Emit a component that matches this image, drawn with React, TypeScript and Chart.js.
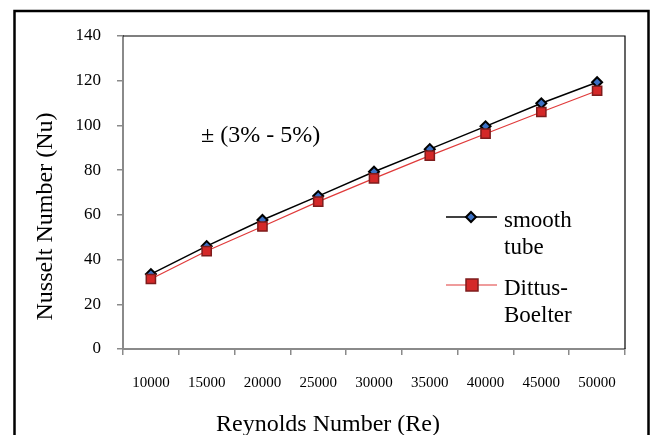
import React, { useEffect, useRef } from 'react';
import { Chart, registerables } from 'chart.js';

Chart.register(...registerables);

// ---- data ----
const reynoldsLabels = ['10000', '15000', '20000', '25000', '30000', '35000', '40000', '45000', '50000'];
const smoothTube = [33.5, 46, 57.7, 68.4, 79.3, 89.4, 99.6, 109.9, 119.3];
const dittusBoelter = [31.3, 43.8, 54.8, 65.9, 76.3, 86.5, 96.3, 106, 115.5];
const yMin = 0;
const yMax = 140;
const yStep = 20;
const xTitle = 'Reynolds Number (Re)';
const yTitle = 'Nusselt Number (Nu)';
const noteText = '± (3% - 5%)';
const smoothLegend = ['smooth', 'tube'];
const dittusLegend = ['Dittus-', 'Boelter'];

const FONT = '"Liberation Serif", "Times New Roman", serif';
const AXIS_GRAY = '#8a8a8a';
const BLACK_LINE = '#000000';
const DIAMOND_FILL = '#3b6fc2';
const RED_LINE = '#e03a3a';
const RED_FILL = '#d42828';
const RED_BORDER = '#7e1c1c';

function drawDiamond(ctx: CanvasRenderingContext2D, x: number, y: number, r: number) {
  ctx.save();
  ctx.beginPath();
  ctx.moveTo(x, y - r);
  ctx.lineTo(x + r, y);
  ctx.lineTo(x, y + r);
  ctx.lineTo(x - r, y);
  ctx.closePath();
  ctx.fillStyle = DIAMOND_FILL;
  ctx.fill();
  ctx.lineWidth = 2;
  ctx.strokeStyle = BLACK_LINE;
  ctx.stroke();
  ctx.restore();
}

function drawSquare(ctx: CanvasRenderingContext2D, x: number, y: number, r: number) {
  ctx.save();
  ctx.fillStyle = RED_FILL;
  ctx.fillRect(x - r, y - r, 2 * r, 2 * r);
  ctx.lineWidth = 1.5;
  ctx.strokeStyle = RED_BORDER;
  ctx.strokeRect(x - r, y - r, 2 * r, 2 * r);
  ctx.restore();
}

const decorPlugin = {
  id: 'decor',
  afterDraw(chart: any) {
    const ctx: CanvasRenderingContext2D = chart.ctx;
    const { left, right, top, bottom } = chart.chartArea;
    ctx.save();
    // plot border top/right
    ctx.strokeStyle = '#000';
    ctx.lineWidth = 1.2;
    ctx.beginPath();
    ctx.moveTo(left, top);
    ctx.lineTo(right, top);
    ctx.lineTo(right, bottom);
    ctx.stroke();

    // outer frame
    ctx.lineWidth = 2.5;
    ctx.strokeRect(14.5, 11, 634, 440);

    ctx.fillStyle = '#000';
    // note
    ctx.font = `24px ${FONT}`;
    ctx.textAlign = 'left';
    ctx.textBaseline = 'alphabetic';
    ctx.fillText(noteText, 201, 142);

    // x title
    ctx.textAlign = 'center';
    ctx.fillText(xTitle, 328, 431);

    // y title
    ctx.save();
    ctx.translate(52, 216.5);
    ctx.rotate(-Math.PI / 2);
    ctx.fillText(yTitle, 0, 0);
    ctx.restore();

    // legend
    ctx.font = `23px ${FONT}`;
    ctx.textAlign = 'left';
    ctx.lineWidth = 1.5;
    ctx.strokeStyle = BLACK_LINE;
    ctx.beginPath();
    ctx.moveTo(446, 217);
    ctx.lineTo(497, 217);
    ctx.stroke();
    drawDiamond(ctx, 471, 217, 5);
    ctx.fillStyle = '#000';
    ctx.fillText(smoothLegend[0], 504, 227);
    ctx.fillText(smoothLegend[1], 504, 254);

    ctx.lineWidth = 1.2;
    ctx.strokeStyle = RED_LINE;
    ctx.beginPath();
    ctx.moveTo(446, 285);
    ctx.lineTo(497, 285);
    ctx.stroke();
    drawSquare(ctx, 472, 285, 6);
    ctx.fillStyle = '#000';
    ctx.fillText(dittusLegend[0], 504, 295);
    ctx.fillText(dittusLegend[1], 504, 322);
    ctx.restore();
  },
};

export default function App() {
  const ref = useRef<HTMLCanvasElement>(null);
  useEffect(() => {
    if (!ref.current) return;
    const chart = new Chart(ref.current, {
      type: 'line',
      data: {
        labels: reynoldsLabels,
        datasets: [
          {
            label: 'smooth tube',
            data: smoothTube,
            borderColor: BLACK_LINE,
            borderWidth: 1.5,
            pointStyle: 'rectRot',
            pointRadius: 5,
            pointBackgroundColor: DIAMOND_FILL,
            pointBorderColor: BLACK_LINE,
            pointBorderWidth: 2,
            order: 1,
          },
          {
            label: 'Dittus-Boelter',
            data: dittusBoelter,
            borderColor: RED_LINE,
            borderWidth: 1.2,
            pointStyle: 'rect',
            pointRadius: 6.5,
            pointBackgroundColor: RED_FILL,
            pointBorderColor: RED_BORDER,
            pointBorderWidth: 1.5,
            order: 0,
          },
        ],
      },
      options: {
        responsive: false,
        animation: false,
        devicePixelRatio: 1,
        layout: { padding: { left: 0, top: 36, right: 26, bottom: 0 } },
        plugins: { legend: { display: false }, tooltip: { enabled: false }, title: { display: false } },
        scales: {
          x: {
            type: 'category',
            offset: true,
            grid: { display: true, drawOnChartArea: false, drawTicks: true, tickLength: 6, color: AXIS_GRAY, lineWidth: 1.5, offset: true },
            border: { display: true, color: AXIS_GRAY, width: 2 },
            ticks: { color: '#000', font: { family: FONT, size: 15 }, padding: 19, maxRotation: 0, autoSkip: false },
            afterFit: (s: any) => { s.height = 86; },
          },
          y: {
            min: yMin,
            max: yMax,
            grid: { display: true, drawOnChartArea: false, drawTicks: true, tickLength: 6, color: AXIS_GRAY, lineWidth: 1.5 },
            border: { display: true, color: AXIS_GRAY, width: 2 },
            ticks: { stepSize: yStep, color: '#000', font: { family: FONT, size: 17 }, padding: 16 },
            afterFit: (s: any) => { s.width = 123; },
          },
        },
      },
      plugins: [decorPlugin],
    });
    return () => chart.destroy();
  }, []);
  return (
    <div style={{ position: 'absolute', left: 0, top: 0, width: 651, height: 435, background: '#fff' }}>
      <canvas ref={ref} width={651} height={435} style={{ width: 651, height: 435, display: 'block' }} />
    </div>
  );
}
